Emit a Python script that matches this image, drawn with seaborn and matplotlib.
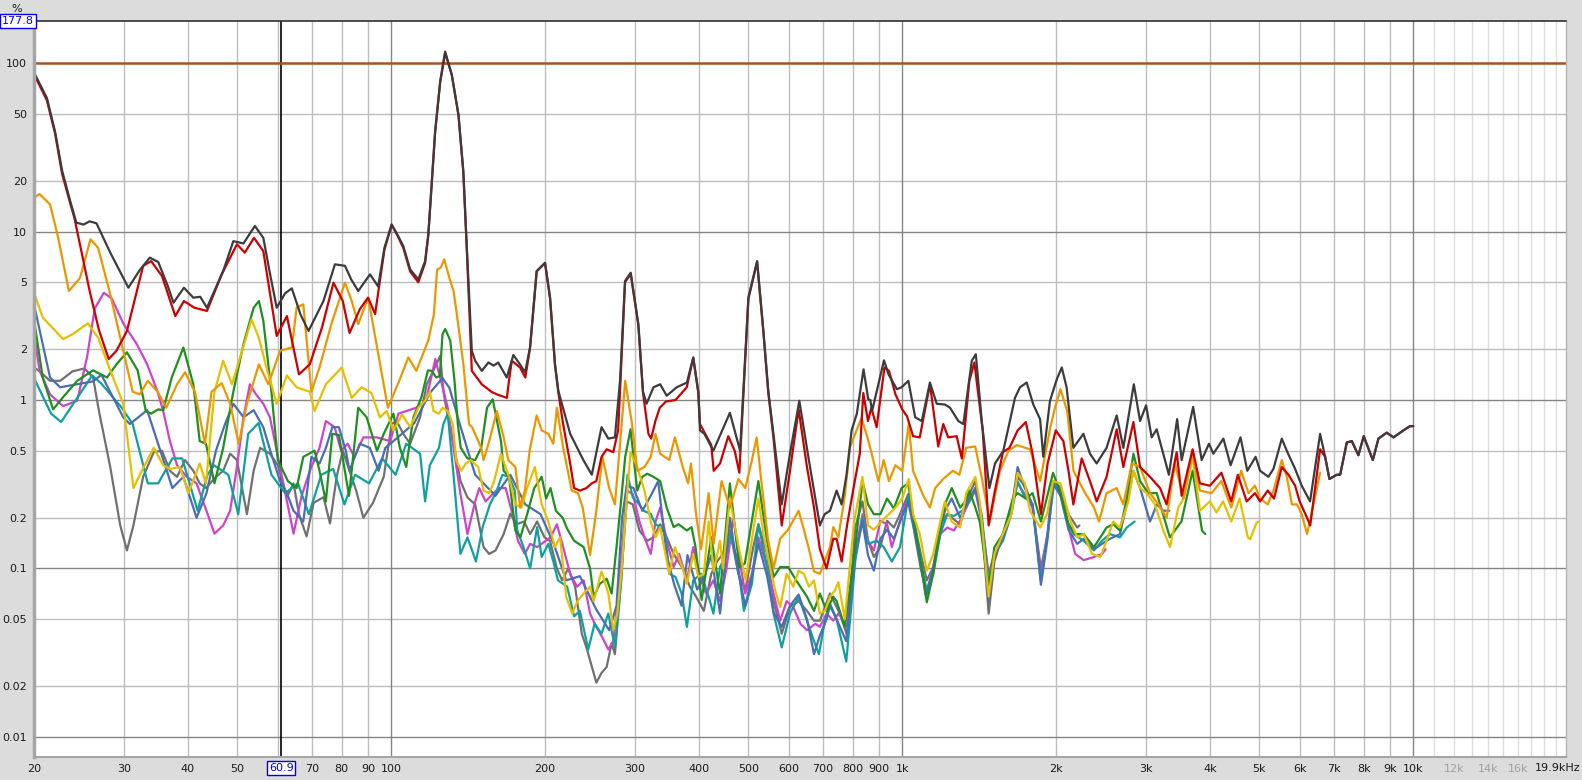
import matplotlib
matplotlib.use("Agg")
import matplotlib.pyplot as plt
import matplotlib.transforms as mtransforms
import pandas as pd
import seaborn as sns

# distortion vs frequency, values in %
thd = [
    (20, 88), (21.2, 62), (22.0, 39), (22.7, 23), (23.5, 15.5), (24.2, 11.3), (25.0, 11.0),
    (25.7, 11.5), (26.5, 11.2), (28.2, 7.5), (30.6, 4.64), (32.2, 5.9), (33.7, 7.0), (35.0, 6.6),
    (36.5, 4.8), (37.5, 3.78), (39.3, 4.64), (41.0, 4.05), (42.3, 4.1), (43.6, 3.53), (46.9, 5.83),
    (49.1, 8.77), (51.4, 8.5), (54.1, 10.8), (56.2, 9.18), (58.0, 5.5), (59.7, 3.53), (62.0, 4.3),
    (63.9, 4.6), (66.5, 3.2), (68.9, 2.57), (73.7, 3.87), (77.6, 6.39), (81.2, 6.26), (83.5, 5.2),
    (86.2, 4.44), (90.9, 5.57), (94.3, 4.72), (97.0, 8.0), (100.2, 11.0), (103, 9.5), (105.6, 8.2),
    (108.9, 5.97), (113, 5.2), (116.5, 6.68), (118.2, 9.62), (121.9, 39.4), (124.7, 77.9),
    (127.5, 117), (131.4, 85.4), (135.4, 49.5), (138.4, 22.8), (140.6, 8.0), (143.8, 1.96),
    (146, 1.71), (150.4, 1.49), (155, 1.67), (158.6, 1.6), (162, 1.67), (168.3, 1.36), (173.4, 1.85),
    (178.6, 1.63), (182.8, 1.46), (186.9, 2.05), (192.6, 5.83), (200, 6.53), (204.6, 4.05),
    (209.2, 1.63), (212.4, 1.13), (224, 0.63), (237.7, 0.44), (246.9, 0.36), (258, 0.69), (266, 0.59),
    (274, 0.6), (280.4, 1.3), (286.8, 5.09), (294.2, 5.7), (304.5, 2.82), (311, 1.12), (316, 0.95),
    (326, 1.19), (336, 1.24), (346, 1.06), (362, 1.19), (379, 1.27), (390, 1.79), (399, 1.12),
    (402, 0.66), (410, 0.63), (427, 0.5), (460, 0.84), (481.6, 0.5), (500, 4.05), (520, 6.68),
    (535, 2.57), (547, 1.12), (559.7, 0.63), (581, 0.24), (603, 0.48), (629, 0.99), (655, 0.46),
    (690, 0.18), (705, 0.21), (722, 0.22), (744, 0.29), (761, 0.24), (778, 0.36), (796, 0.66),
    (815, 0.83), (840, 1.52), (858, 1.01), (866, 1.0), (873, 0.86), (921, 1.72), (940, 1.42),
    (976, 1.16), (997, 1.19), (1028, 1.3), (1060, 0.79), (1092, 0.75), (1133, 1.27), (1168, 0.95),
    (1212, 0.94), (1240, 0.9), (1288, 0.75), (1317, 0.72), (1368, 1.71), (1393, 1.87), (1431, 0.75),
    (1481, 0.3), (1519, 0.42), (1577, 0.5), (1662, 1.03), (1700, 1.19), (1752, 1.27), (1805, 0.94),
    (1861, 0.77), (1888, 0.46), (1946, 0.99), (2007, 1.33), (2052, 1.56), (2097, 1.19), (2162, 0.52),
    (2262, 0.63), (2330, 0.48), (2401, 0.42), (2511, 0.52), (2628, 0.81), (2708, 0.52), (2839, 1.24),
    (2920, 0.75), (3000, 0.93), (3077, 0.6), (3147, 0.67), (3325, 0.36), (3451, 0.77), (3522, 0.44),
    (3709, 0.91), (3854, 0.44), (3983, 0.55), (4062, 0.48), (4251, 0.59), (4391, 0.41), (4592, 0.6),
    (4734, 0.38), (4915, 0.46), (5015, 0.38), (5206, 0.35), (5326, 0.39), (5530, 0.59), (5655, 0.5),
    (5872, 0.39), (6050, 0.31), (6281, 0.25), (6572, 0.63), (6722, 0.46), (6854, 0.34), (7085, 0.36),
    (7193, 0.36), (7412, 0.56), (7581, 0.57), (7809, 0.47), (8000, 0.61), (8333, 0.44), (8548, 0.59),
    (8873, 0.64), (9148, 0.6), (9565, 0.66), (9858, 0.7), (10000, 0.7),
]

h2 = [
    (20, 86), (21.2, 60), (22.0, 38), (22.7, 22), (23.5, 15), (24.0, 12), (25.7, 4.44), (26.8, 2.6),
    (28.0, 1.75), (29.0, 1.96), (30.4, 2.57), (32.7, 6.25), (33.9, 6.68), (35.6, 5.45), (37.8, 3.15),
    (39.3, 3.87), (41.2, 3.53), (43.6, 3.38), (46.6, 5.57), (49.9, 8.4), (51.7, 7.5), (53.9, 9.18),
    (56.2, 7.66), (59.7, 2.4), (62.5, 3.15), (66.0, 1.42), (69.3, 1.63), (73.2, 2.69), (77.1, 4.97),
    (80.4, 3.87), (82.9, 2.5), (86.8, 3.46), (90.1, 4.05), (93.0, 3.24), (97.0, 7.8), (100.2, 11.0),
    (103, 9.4), (105.6, 8.0), (108.9, 5.8), (113, 5.0), (116.5, 6.5), (118.2, 9.5), (121.9, 39),
    (124.7, 77), (127.5, 115), (131.4, 85), (135.4, 49), (138.4, 22.5), (140.6, 7.8), (143.8, 1.49),
    (146, 1.4), (150.4, 1.24), (157, 1.12), (161, 1.08), (168.4, 1.03), (170, 1.3), (172.2, 1.71),
    (178.7, 1.56), (183, 1.36), (187, 2.05), (192.6, 5.8), (200, 6.5), (204.6, 4.0), (209.2, 1.6),
    (212.4, 1.1), (217, 0.72), (224, 0.42), (228, 0.3), (234, 0.29), (241, 0.3), (246.8, 0.32),
    (252, 0.33), (258, 0.46), (264, 0.51), (272, 0.49), (278, 0.66), (281, 1.3), (286.8, 5.0),
    (294.2, 5.6), (304.5, 2.8), (311, 1.1), (318.7, 0.63), (322.6, 0.59), (328.8, 0.75), (335.4, 0.9),
    (345, 0.98), (360, 1.0), (378.7, 1.19), (390, 1.78), (399, 1.1), (402, 0.72), (423, 0.54),
    (427.6, 0.38), (440, 0.42), (456.7, 0.61), (470, 0.5), (480, 0.37), (500, 4.0), (520, 6.6),
    (535, 2.5), (547, 1.1), (559.7, 0.6), (581, 0.18), (603, 0.38), (627, 0.88), (651, 0.4),
    (672, 0.23), (690, 0.13), (711, 0.1), (733, 0.15), (744, 0.15), (761, 0.11), (782, 0.19),
    (806, 0.32), (826, 0.48), (839, 1.1), (857, 0.75), (870, 0.9), (891, 0.69), (923, 1.56),
    (942, 1.49), (970, 1.08), (1000, 0.88), (1022, 0.8), (1050, 0.61), (1082, 0.6), (1133, 1.24),
    (1176, 0.53), (1203, 0.72), (1230, 0.6), (1278, 0.61), (1308, 0.45), (1353, 1.3), (1384, 1.67),
    (1437, 0.66), (1476, 0.18), (1515, 0.28), (1574, 0.49), (1621, 0.52), (1682, 0.66), (1745, 0.74),
    (1799, 0.48), (1868, 0.21), (1925, 0.42), (1997, 0.66), (2067, 0.57), (2115, 0.38), (2162, 0.24),
    (2245, 0.45), (2330, 0.33), (2402, 0.25), (2511, 0.35), (2628, 0.67), (2708, 0.4), (2834, 0.74),
    (2920, 0.4), (3054, 0.35), (3195, 0.3), (3291, 0.24), (3443, 0.49), (3522, 0.27), (3700, 0.51),
    (3824, 0.32), (4000, 0.31), (4212, 0.37), (4404, 0.25), (4536, 0.36), (4721, 0.25), (4900, 0.28),
    (5015, 0.25), (5190, 0.29), (5340, 0.26), (5530, 0.4), (5699, 0.36), (5872, 0.31), (5993, 0.25),
    (6197, 0.2), (6286, 0.18), (6572, 0.51), (6722, 0.46), (6854, 0.34), (7085, 0.36), (7193, 0.36),
    (7412, 0.56), (7581, 0.57), (7809, 0.47), (8000, 0.61), (8333, 0.44), (8548, 0.59), (8873, 0.64),
    (9148, 0.6), (9565, 0.66), (9858, 0.7), (10000, 0.7),
]

h3 = [
    (20, 15.9), (20.5, 16.7), (21.5, 14.5), (22.3, 9.2), (23.4, 4.44), (24.6, 5.3), (25.8, 9.0),
    (26.7, 8.0), (28.2, 4.24), (29.7, 2.14), (31.2, 1.12), (32.2, 1.08), (33.4, 1.3), (34.9, 1.12),
    (36.3, 0.9), (38.1, 1.24), (39.5, 1.46), (41.3, 1.12), (43.2, 0.55), (44.5, 1.12), (46.6, 1.26),
    (48.4, 0.95), (50.3, 0.55), (52.2, 0.95), (55.1, 1.63), (57.5, 1.24), (60.6, 1.96), (63.9, 2.05),
    (65.3, 3.53), (67.3, 3.7), (69.8, 1.12), (72.4, 1.56), (76.5, 2.88), (81.2, 4.97), (83.7, 3.87),
    (86.2, 2.82), (90.1, 4.05), (92.1, 2.82), (98.5, 0.9), (104, 1.33), (108, 1.79), (112, 1.49),
    (118.2, 2.26), (121.2, 3.22), (123, 5.96), (125, 6.1), (127, 6.84), (130, 5.3), (132.5, 4.4),
    (135, 2.93), (138.4, 1.64), (142, 0.72), (144, 0.69), (150, 0.52), (151.6, 0.44), (155.5, 0.57),
    (161, 0.86), (166, 0.6), (169.5, 0.44), (175, 0.4), (178.7, 0.23), (182.6, 0.29), (186.6, 0.5),
    (192.6, 0.81), (197, 0.66), (203, 0.63), (207.6, 0.55), (211, 0.9), (217, 0.52), (225.6, 0.29),
    (232, 0.28), (237, 0.23), (245, 0.12), (252, 0.22), (259, 0.46), (267, 0.3), (274, 0.24),
    (280, 0.52), (287, 1.3), (296, 0.72), (303, 0.38), (313, 0.4), (322, 0.46), (329, 0.63),
    (336, 0.48), (350, 0.44), (359, 0.6), (372, 0.4), (381, 0.32), (386, 0.42), (395, 0.21),
    (404, 0.13), (418, 0.28), (427.5, 0.14), (443, 0.33), (460, 0.23), (478, 0.34), (493, 0.3),
    (508, 0.44), (519, 0.6), (530, 0.33), (546, 0.15), (560, 0.1), (577, 0.15), (598, 0.17),
    (627, 0.22), (642, 0.17), (657, 0.13), (672, 0.096), (690, 0.093), (722, 0.134), (733, 0.176),
    (750, 0.153), (772, 0.27), (790, 0.52), (809, 0.63), (832, 0.78), (855, 0.6), (870, 0.49),
    (898, 0.33), (920, 0.44), (942, 0.33), (970, 0.41), (1000, 0.38), (1030, 0.72), (1050, 0.38),
    (1100, 0.27), (1133, 0.23), (1160, 0.3), (1203, 0.34), (1256, 0.38), (1294, 0.36), (1334, 0.52),
    (1389, 0.53), (1430, 0.35), (1483, 0.19), (1553, 0.38), (1614, 0.5), (1676, 0.54), (1778, 0.51),
    (1862, 0.33), (1949, 0.69), (1994, 0.92), (2040, 1.16), (2103, 0.86), (2163, 0.38), (2265, 0.29),
    (2372, 0.23), (2427, 0.19), (2511, 0.28), (2628, 0.3), (2708, 0.24), (2813, 0.42), (2920, 0.4),
    (3054, 0.28), (3172, 0.24), (3291, 0.2), (3418, 0.42), (3552, 0.26), (3700, 0.48), (3824, 0.29),
    (4030, 0.28), (4212, 0.33), (4404, 0.23), (4606, 0.38), (4760, 0.28), (4900, 0.31), (5015, 0.26),
    (5190, 0.24), (5326, 0.29), (5530, 0.44), (5655, 0.35), (5790, 0.24), (5920, 0.24), (6050, 0.21),
    (6197, 0.16), (6340, 0.22), (6572, 0.37),
]

h4 = [
    (20, 4.33), (20.8, 3.09), (22.8, 2.3), (23.8, 2.46), (25.5, 2.85), (26.7, 2.34), (28.2, 1.5),
    (29.9, 0.95), (31.3, 0.3), (32.5, 0.38), (34.3, 0.52), (35.8, 0.41), (36.9, 0.39), (38.6, 0.4),
    (40.1, 0.28), (42.2, 0.42), (43.4, 0.32), (45.1, 1.12), (46.9, 1.71), (48.8, 1.24), (53.3, 3.01),
    (55.1, 2.33), (57.0, 1.56), (59.7, 0.95), (62.5, 1.4), (65.3, 1.19), (69.3, 1.12), (70.8, 0.86),
    (74.5, 1.24), (80, 1.56), (83.7, 1.03), (87.5, 1.19), (91.5, 1.1), (95, 0.79), (98, 0.86),
    (101, 0.66), (105, 0.82), (109, 0.69), (113, 0.9), (116.5, 0.99), (119, 1.12), (121, 0.86),
    (124, 0.83), (126, 0.9), (129, 0.86), (132, 0.72), (134, 0.44), (137, 0.38), (140, 0.42),
    (143, 0.44), (148, 0.4), (151.6, 0.29), (155.5, 0.28), (159, 0.33), (164, 0.48), (169.5, 0.36),
    (175, 0.24), (180, 0.23), (184.5, 0.3), (191, 0.4), (197, 0.24), (203, 0.19), (209, 0.134),
    (214, 0.153), (220, 0.068), (226, 0.054), (231.5, 0.064), (238, 0.071), (245, 0.078), (249, 0.064),
    (258, 0.096), (266, 0.071), (272, 0.043), (277, 0.054), (283, 0.107), (289, 0.26), (294, 0.49),
    (303, 0.4), (313, 0.29), (322, 0.19), (329, 0.153), (336, 0.176), (350, 0.093), (359, 0.134),
    (372, 0.1), (379, 0.081), (390, 0.122), (399, 0.089), (409, 0.093), (418, 0.19), (427.5, 0.096),
    (440, 0.146), (446, 0.1), (460, 0.26), (470, 0.18), (480, 0.128), (494, 0.085), (511, 0.168),
    (523, 0.26), (535, 0.16), (553, 0.097), (566, 0.071), (577, 0.059), (594, 0.093), (612, 0.078),
    (627, 0.097), (642, 0.093), (657, 0.078), (672, 0.085), (690, 0.054), (706, 0.056), (722, 0.068),
    (738, 0.074), (750, 0.083), (772, 0.05), (805, 0.19), (836, 0.35), (857, 0.18), (880, 0.17),
    (920, 0.196), (970, 0.23), (1000, 0.26), (1030, 0.34), (1050, 0.21), (1082, 0.16), (1117, 0.097),
    (1150, 0.122), (1187, 0.19), (1212, 0.25), (1249, 0.19), (1298, 0.175), (1334, 0.28), (1390, 0.35),
    (1418, 0.25), (1476, 0.068), (1515, 0.122), (1574, 0.16), (1635, 0.21), (1682, 0.37), (1737, 0.32),
    (1778, 0.22), (1862, 0.175), (1920, 0.21), (1973, 0.33), (2040, 0.32), (2135, 0.19), (2200, 0.153),
    (2265, 0.16), (2353, 0.122), (2442, 0.117), (2511, 0.146), (2588, 0.19), (2667, 0.175), (2770, 0.25),
    (2834, 0.38), (2920, 0.3), (3008, 0.28), (3122, 0.24), (3243, 0.168), (3342, 0.134), (3469, 0.23),
    (3552, 0.26), (3700, 0.46), (3824, 0.22), (4000, 0.25), (4120, 0.215), (4245, 0.25), (4404, 0.19),
    (4572, 0.26), (4745, 0.153), (4795, 0.149), (4936, 0.187), (4990, 0.19),
]

h5 = [
    (20, 3.0), (20.8, 1.36), (21.8, 0.88), (22.8, 1.04), (24.3, 1.3), (26.1, 1.5), (27.8, 1.36),
    (29.0, 1.63), (30.4, 1.92), (31.9, 1.5), (33.1, 0.86), (33.9, 0.83), (35.0, 0.88), (35.8, 0.87),
    (37.2, 1.36), (39.2, 2.05), (41.0, 1.24), (42.2, 0.57), (43.4, 0.55), (45.1, 0.32), (46.9, 0.52),
    (49.1, 1.12), (51.4, 2.15), (53.8, 3.53), (55.1, 3.87), (56.2, 2.95), (58.3, 1.12), (60.0, 0.44),
    (62.8, 0.33), (65.3, 0.3), (67.3, 0.46), (70.8, 0.5), (72.4, 0.38), (74.5, 0.25), (76.7, 0.63),
    (79.0, 0.62), (82.7, 0.27), (86.2, 0.9), (89.5, 0.79), (93.8, 0.5), (96.7, 0.63), (101, 0.83),
    (104, 0.52), (107, 0.4), (110.5, 0.79), (114.6, 1.04), (118, 1.5), (120, 1.49), (122.5, 1.36),
    (124.5, 1.39), (126, 2.46), (127.6, 2.64), (130.5, 2.25), (133, 1.3), (135, 0.72), (136.8, 0.52),
    (141, 0.45), (146, 0.44), (150, 0.52), (154, 0.9), (158, 1.01), (164, 0.57), (166, 0.38),
    (170, 0.35), (175, 0.168), (179, 0.153), (184.5, 0.21), (190.5, 0.3), (197, 0.35), (201, 0.26),
    (205, 0.3), (210, 0.22), (216.5, 0.2), (221, 0.172), (228, 0.146), (238, 0.134), (245, 0.1),
    (249, 0.068), (256, 0.081), (264, 0.087), (270, 0.071), (276, 0.134), (282, 0.26), (287, 0.46),
    (294, 0.67), (303, 0.29), (310, 0.35), (317, 0.365), (326, 0.35), (336, 0.33), (346, 0.23),
    (357, 0.176), (365, 0.183), (379, 0.168), (387, 0.176), (394, 0.134), (405, 0.065), (423, 0.153),
    (440, 0.071), (460, 0.32), (480, 0.102), (492, 0.107), (523, 0.33), (544, 0.146), (560, 0.089),
    (577, 0.102), (598, 0.102), (620, 0.085), (651, 0.068), (672, 0.056), (690, 0.071), (711, 0.056),
    (733, 0.068), (744, 0.064), (772, 0.045), (809, 0.134), (836, 0.33), (857, 0.24), (880, 0.21),
    (906, 0.21), (934, 0.26), (963, 0.227), (997, 0.3), (1027, 0.32), (1054, 0.19), (1087, 0.11),
    (1117, 0.063), (1150, 0.093), (1187, 0.175), (1212, 0.24), (1250, 0.3), (1298, 0.23), (1329, 0.25),
    (1353, 0.29), (1390, 0.23), (1418, 0.19), (1476, 0.077), (1515, 0.134), (1574, 0.16), (1646, 0.26),
    (1682, 0.28), (1745, 0.26), (1799, 0.28), (1868, 0.19), (1973, 0.37), (2040, 0.28), (2115, 0.183),
    (2180, 0.16), (2265, 0.16), (2372, 0.134), (2442, 0.153), (2511, 0.175), (2588, 0.183), (2667, 0.168),
    (2750, 0.26), (2834, 0.48), (2920, 0.33), (3030, 0.28), (3148, 0.28), (3340, 0.153), (3518, 0.19),
    (3700, 0.38), (3860, 0.168), (3918, 0.16),
]

h6 = [
    (20, 3.69), (21.5, 1.36), (22.5, 1.19), (26.1, 1.29), (27.1, 1.41), (29.9, 0.79), (30.8, 0.72),
    (33.3, 0.87), (36.1, 0.41), (37.3, 0.3), (39.2, 0.35), (41.6, 0.2), (43.5, 0.28), (45.4, 0.5),
    (47.3, 0.72), (49.1, 0.95), (51.4, 0.79), (53.8, 0.87), (56.2, 0.69), (58.0, 0.5), (60.6, 0.33),
    (62.5, 0.28), (64.4, 0.22), (67.3, 0.19), (69.8, 0.46), (72.4, 0.42), (74.5, 0.52), (76.7, 0.69),
    (79.0, 0.69), (81.5, 0.5), (82.9, 0.38), (86.8, 0.55), (90.8, 0.52), (94.5, 0.38), (97.4, 0.52),
    (101, 0.57), (111, 0.73), (119, 1.1), (126, 1.35), (130, 1.18), (136, 0.73), (146, 0.36),
    (160, 0.27), (171, 0.36), (183, 0.24), (196, 0.21), (208, 0.14), (220, 0.085), (234, 0.09),
    (252, 0.057), (267, 0.043), (276, 0.06), (283, 0.2), (289, 0.31), (298, 0.3), (310, 0.22),
    (322, 0.27), (333, 0.33), (346, 0.12), (358, 0.08), (370, 0.06), (380, 0.12), (397, 0.075),
    (410, 0.09), (423, 0.12), (440, 0.054), (460, 0.2), (476, 0.1), (493, 0.06), (508, 0.09),
    (523, 0.14), (544, 0.09), (560, 0.055), (581, 0.045), (603, 0.06), (627, 0.07), (651, 0.05),
    (672, 0.031), (690, 0.04), (711, 0.05), (722, 0.06), (744, 0.05), (777, 0.037), (809, 0.12),
    (836, 0.19), (857, 0.12), (880, 0.097), (906, 0.15), (934, 0.17), (963, 0.15), (997, 0.2),
    (1027, 0.25), (1054, 0.17), (1087, 0.1), (1117, 0.07), (1150, 0.1), (1187, 0.17), (1212, 0.22),
    (1250, 0.26), (1298, 0.2), (1353, 0.26), (1390, 0.3), (1430, 0.2), (1476, 0.065), (1515, 0.12),
    (1574, 0.15), (1635, 0.22), (1682, 0.4), (1737, 0.3), (1799, 0.24), (1868, 0.08), (1925, 0.15),
    (1973, 0.32), (2040, 0.27), (2115, 0.17), (2200, 0.14), (2265, 0.15), (2372, 0.13), (2460, 0.14),
    (2550, 0.15), (2667, 0.16), (2750, 0.24), (2834, 0.38), (2920, 0.3), (3054, 0.19), (3150, 0.24),
    (3243, 0.22), (3333, 0.22),
]

h7 = [
    (20, 1.35), (21.6, 0.83), (22.6, 0.74), (24.3, 1.03), (26, 1.4), (27.1, 1.25), (29.7, 0.9),
    (31.2, 0.72), (33.4, 0.32), (35, 0.32), (37.3, 0.45), (39, 0.45), (41.8, 0.22), (43.7, 0.36),
    (45, 0.41), (48, 0.36), (50.2, 0.21), (52.5, 0.63), (55, 0.73), (58.3, 0.36), (62, 0.28),
    (65.7, 0.32), (69, 0.21), (73, 0.36), (77, 0.39), (81, 0.24), (85, 0.36), (90.5, 0.32), (96, 0.45),
    (102, 0.36), (107, 0.55), (113.9, 0.48), (116.5, 0.25), (119, 0.41), (124, 0.52), (126.5, 0.72),
    (129, 0.83), (132.4, 0.36), (136.6, 0.122), (141, 0.153), (146.5, 0.11), (151, 0.176), (156, 0.24),
    (161, 0.29), (165, 0.36), (170, 0.35), (174.5, 0.29), (176.5, 0.168), (181.5, 0.134), (187, 0.1),
    (193, 0.176), (197, 0.117), (203, 0.14), (207.6, 0.11), (212, 0.085), (221, 0.078), (228, 0.052),
    (234, 0.056), (243, 0.033), (250, 0.047), (258, 0.041), (266, 0.054), (274, 0.034), (282, 0.085),
    (290, 0.36), (297, 0.264), (304, 0.245), (312, 0.22), (322, 0.211), (329, 0.183), (336, 0.176),
    (344, 0.16), (350, 0.093), (360, 0.089), (370, 0.071), (379, 0.045), (390, 0.085), (404, 0.093),
    (418, 0.068), (427, 0.054), (440, 0.102), (453, 0.122), (460, 0.16), (476, 0.111), (490, 0.056),
    (508, 0.081), (523, 0.183), (544, 0.102), (560, 0.054), (581, 0.034), (603, 0.054), (627, 0.068),
    (651, 0.049), (672, 0.037), (687, 0.031), (706, 0.049), (722, 0.062), (744, 0.05), (777, 0.028),
    (795, 0.06), (809, 0.11), (836, 0.2), (857, 0.14), (891, 0.146), (920, 0.134), (954, 0.11),
    (990, 0.134), (1030, 0.276), (1054, 0.192), (1087, 0.11), (1117, 0.074), (1150, 0.093), (1187, 0.16),
    (1225, 0.21), (1262, 0.205), (1310, 0.22), (1353, 0.25), (1390, 0.3), (1430, 0.21), (1476, 0.085),
    (1515, 0.122), (1574, 0.146), (1635, 0.21), (1682, 0.33), (1737, 0.264), (1799, 0.241), (1868, 0.085),
    (1925, 0.16), (1985, 0.33), (2040, 0.276), (2103, 0.192), (2163, 0.16), (2265, 0.146), (2372, 0.128),
    (2460, 0.146), (2550, 0.16), (2667, 0.153), (2750, 0.175), (2850, 0.19),
]

h8 = [
    (20, 2.5), (20.5, 1.5), (21.5, 1.08), (22.8, 0.92), (24.3, 0.99), (25.4, 1.8), (26.3, 3.5),
    (27.4, 4.33), (28.4, 4.0), (29.9, 2.85), (31.8, 2.14), (33.3, 1.63), (34.9, 1.12), (35.8, 0.86),
    (36.9, 0.57), (38.1, 0.41), (39.8, 0.35), (41.6, 0.32), (43.5, 0.22), (45.1, 0.161), (46.9, 0.18),
    (48.4, 0.22), (49.9, 0.4), (51.4, 0.79), (52.9, 1.24), (54.4, 1.08), (56.2, 0.95), (57.9, 0.79),
    (59.7, 0.5), (62.5, 0.254), (64.4, 0.161), (66.8, 0.27), (69.3, 0.38), (72.4, 0.52), (74.5, 0.75),
    (77.5, 0.69), (79.8, 0.5), (82.2, 0.55), (84.7, 0.46), (88.2, 0.6), (93.8, 0.6), (99.5, 0.57),
    (103.3, 0.83), (107, 0.86), (112, 0.9), (117, 0.99), (122, 1.75), (126, 1.2), (129, 0.9),
    (132.4, 0.523), (136.6, 0.277), (141, 0.16), (146, 0.25), (148.7, 0.3), (153, 0.25), (158, 0.277),
    (162.5, 0.3), (167.5, 0.3), (172, 0.22), (177, 0.146), (182.6, 0.122), (187, 0.14), (193, 0.134),
    (205, 0.153), (211, 0.183), (217, 0.134), (224, 0.093), (231, 0.078), (238, 0.085), (245, 0.054),
    (252, 0.045), (259, 0.039), (266, 0.033), (272, 0.037), (280, 0.085), (289, 0.29), (297, 0.277),
    (306, 0.19), (313, 0.153), (322, 0.122), (329, 0.19), (336, 0.23), (346, 0.146), (357, 0.102),
    (366, 0.122), (379, 0.085), (390, 0.134), (404, 0.085), (413, 0.071), (427, 0.085), (440, 0.064),
    (453, 0.1), (467, 0.2), (481, 0.11), (493, 0.071), (508, 0.093), (523, 0.153), (544, 0.102),
    (560, 0.071), (577, 0.049), (594, 0.064), (612, 0.059), (632, 0.047), (651, 0.043), (676, 0.047),
    (690, 0.045), (711, 0.054), (733, 0.049), (750, 0.054), (780, 0.045), (805, 0.112), (836, 0.21),
    (857, 0.146), (880, 0.128), (906, 0.192), (934, 0.183), (954, 0.134), (990, 0.192), (1030, 0.264),
    (1054, 0.175), (1087, 0.11), (1110, 0.07), (1142, 0.093), (1187, 0.16), (1225, 0.175), (1262, 0.168),
    (1298, 0.192), (1353, 0.25), (1390, 0.29), (1430, 0.192), (1476, 0.093), (1515, 0.122), (1574, 0.153),
    (1635, 0.23), (1682, 0.32), (1737, 0.276), (1799, 0.23), (1868, 0.093), (1925, 0.16), (1968, 0.317),
    (2050, 0.276), (2115, 0.175), (2180, 0.122), (2265, 0.112), (2372, 0.117), (2460, 0.122), (2500, 0.13),
]

h9 = [
    (20, 1.56), (20.5, 1.48), (21.5, 1.3), (22.5, 1.3), (23.8, 1.48), (25.1, 1.54), (26.1, 1.36),
    (26.8, 0.86), (28.2, 0.4), (29.5, 0.18), (30.4, 0.128), (31.3, 0.18), (32.7, 0.35), (34.3, 0.49),
    (35.6, 0.5), (36.9, 0.38), (38.1, 0.35), (39.5, 0.44), (41, 0.38), (42.2, 0.32), (43.4, 0.3),
    (45.4, 0.35), (46.9, 0.38), (48.4, 0.48), (49.9, 0.44), (52.2, 0.21), (53.8, 0.38), (55.4, 0.52),
    (57.9, 0.48), (60, 0.41), (62.5, 0.265), (64.4, 0.32), (66, 0.21), (68.3, 0.155), (70.5, 0.245),
    (73.7, 0.265), (75.9, 0.185), (78.2, 0.35), (80.4, 0.5), (82.9, 0.38), (85.4, 0.29), (88.2, 0.2),
    (92.1, 0.245), (96.7, 0.35), (100.2, 0.72), (102.5, 0.75), (105.6, 0.63), (108.9, 0.55),
    (113.9, 0.79), (117.4, 1.24), (121, 1.5), (124.7, 1.83), (126.5, 1.13), (128.8, 0.825), (132.4, 0.55),
    (136.6, 0.332), (141, 0.264), (146, 0.24), (151.6, 0.134), (155.5, 0.122), (160, 0.128), (166, 0.16),
    (171, 0.211), (176, 0.183), (182, 0.19), (187, 0.16), (193, 0.19), (199.5, 0.153), (204.5, 0.146),
    (211, 0.1), (216, 0.085), (222, 0.1), (229, 0.078), (236, 0.041), (241, 0.034), (247, 0.026),
    (252, 0.021), (258, 0.024), (264, 0.026), (270, 0.036), (274, 0.031), (280, 0.068), (289, 0.25),
    (297, 0.24), (306, 0.168), (317, 0.146), (326, 0.153), (336, 0.183), (346, 0.153), (357, 0.122),
    (372, 0.1), (384, 0.078), (395, 0.068), (409, 0.056), (423, 0.093), (434, 0.11), (446, 0.122),
    (460, 0.168), (478, 0.093), (493, 0.074), (511, 0.134), (523, 0.183), (544, 0.122), (560, 0.064),
    (581, 0.041), (603, 0.059), (627, 0.064), (651, 0.056), (672, 0.049), (690, 0.049), (722, 0.071),
    (755, 0.054), (780, 0.04), (809, 0.175), (836, 0.25), (857, 0.146), (880, 0.117), (906, 0.134),
    (934, 0.192), (963, 0.175), (990, 0.21), (1027, 0.276), (1054, 0.192), (1087, 0.122), (1117, 0.085),
    (1150, 0.102), (1187, 0.183), (1225, 0.21), (1298, 0.183), (1353, 0.276), (1390, 0.33), (1430, 0.192),
    (1476, 0.054), (1515, 0.11), (1574, 0.16), (1635, 0.23), (1682, 0.35), (1745, 0.303), (1799, 0.23),
    (1868, 0.1), (1925, 0.16), (1968, 0.33), (2040, 0.303), (2115, 0.21), (2200, 0.175), (2222, 0.18),
]

series_names = ["H9", "H8", "H7", "H6", "H5", "H4", "H3", "H2", "THD"]
series_data = [h9, h8, h7, h6, h5, h4, h3, h2, thd]
series_colors = ["#707070", "#cc44cc", "#0fa0a0", "#4a6db3", "#1f8f1f",
                 "#e6bf00", "#eb9800", "#cc0000", "#3c3c3c"]

reference_pct = 100
cursor_hz = 60.9
y_top = 177.8

x_tick_vals = [20, 30, 40, 50, 70, 80, 90, 100, 200, 300, 400, 500, 600, 700, 800, 900,
               1000, 2000, 3000, 4000, 5000, 6000, 7000, 8000, 9000, 10000, 12000, 14000, 16000]
x_tick_text = ["20", "30", "40", "50", "70", "80", "90", "100", "200", "300", "400", "500",
               "600", "700", "800", "900", "1k", "2k", "3k", "4k", "5k", "6k", "7k", "8k", "9k",
               "10k", "12k", "14k", "16k"]
y_tick_vals = [0.01, 0.02, 0.05, 0.1, 0.2, 0.5, 1, 2, 5, 10, 20, 50, 100]
y_tick_text = ["0.01", "0.02", "0.05", "0.1", "0.2", "0.5", "1", "2", "5", "10", "20", "50", "100"]

W, H = 1582, 780

rows = []
for name, pts in zip(series_names, series_data):
    for f, v in pts:
        rows.append((name, f, v))
df = pd.DataFrame(rows, columns=["series", "freq", "pct"])

plt.rcParams["font.family"] = ["DejaVu Sans"]
fig = plt.figure(figsize=(W / 100, H / 100), dpi=100, facecolor="#dcdcdc")
ax = fig.add_axes([34 / W, 23 / H, 1532 / W, 736 / H])
ax.set_facecolor("white")

# grid, REW style: decades darker, beyond 10k very light
for f in [30, 40, 50, 60, 70, 80, 90, 200, 300, 400, 500, 600, 700, 800, 900,
          2000, 3000, 4000, 5000, 6000, 7000, 8000, 9000]:
    ax.axvline(f, color="#bdbdbd", lw=1.0, zorder=0.5)
for f in [100, 1000, 10000]:
    ax.axvline(f, color="#858585", lw=1.0, zorder=0.6)
for f in range(11000, 20000, 1000):
    ax.axvline(f, color="#dedede", lw=1.0, zorder=0.5)
for v in [0.02, 0.05, 0.2, 0.5, 2, 5, 20, 50]:
    ax.axhline(v, color="#bdbdbd", lw=1.0, zorder=0.5)
for v in [0.01, 0.1, 1, 10]:
    ax.axhline(v, color="#858585", lw=1.0, zorder=0.6)

ax.axvline(cursor_hz, color="black", lw=1.2, zorder=1.5)
ax.axhline(reference_pct, color="#a5531f", lw=1.8, zorder=1.8)

sns.lineplot(data=df, x="freq", y="pct", hue="series", hue_order=series_names,
             palette=series_colors, estimator=None, linewidth=1.6, legend=False, ax=ax)
for line in ax.get_lines():
    line.set_solid_joinstyle("round")
    line.set_solid_capstyle("round")

ax.set_xscale("log")
ax.set_yscale("log")
ax.set_xlim(20, 19900)
ax.set_ylim(0.0076, y_top)
ax.set_xlabel("")
ax.set_ylabel("")

ax.set_xticks(x_tick_vals, x_tick_text)
ax.set_yticks(y_tick_vals, y_tick_text)
ax.minorticks_off()
ax.tick_params(axis="both", length=0, labelsize=8, colors="#1a1a1a")
ax.tick_params(axis="x", pad=5)
ax.tick_params(axis="y", pad=5)
for lbl in ax.get_xticklabels():
    if lbl.get_text() in ("12k", "14k", "16k"):
        lbl.set_color("#a0a0a0")

for side, col, lw in [("top", "#303030", 1.2), ("left", "#a5a5a5", 2.5),
                      ("bottom", "#a5a5a5", 1.5), ("right", "#b5b5b5", 1.0)]:
    ax.spines[side].set_color(col)
    ax.spines[side].set_linewidth(lw)

fig.text(1580 / W, 1 - 768 / H, "19.9kHz", ha="right", va="center", fontsize=8, color="#1a1a1a")
fig.text(17 / W, 1 - 9 / H, "%", ha="center", va="center", fontsize=8, color="#1a1a1a")
fig.text(18 / W, 1 - 21 / H, "{:.1f}".format(y_top), ha="center", va="center", fontsize=8,
         color="#0000ee",
         bbox=dict(boxstyle="square,pad=0.15", facecolor="white", edgecolor="#0000ee", lw=1))

trans = mtransforms.blended_transform_factory(ax.transData, fig.transFigure)
ax.text(cursor_hz, 1 - 768 / H, "{:.1f}".format(cursor_hz), transform=trans, ha="center",
        va="center", fontsize=8, color="#0000ee", clip_on=False,
        bbox=dict(boxstyle="square,pad=0.15", facecolor="white", edgecolor="#0000ee", lw=1))

fig.savefig("out.png", dpi=100, facecolor=fig.get_facecolor())
